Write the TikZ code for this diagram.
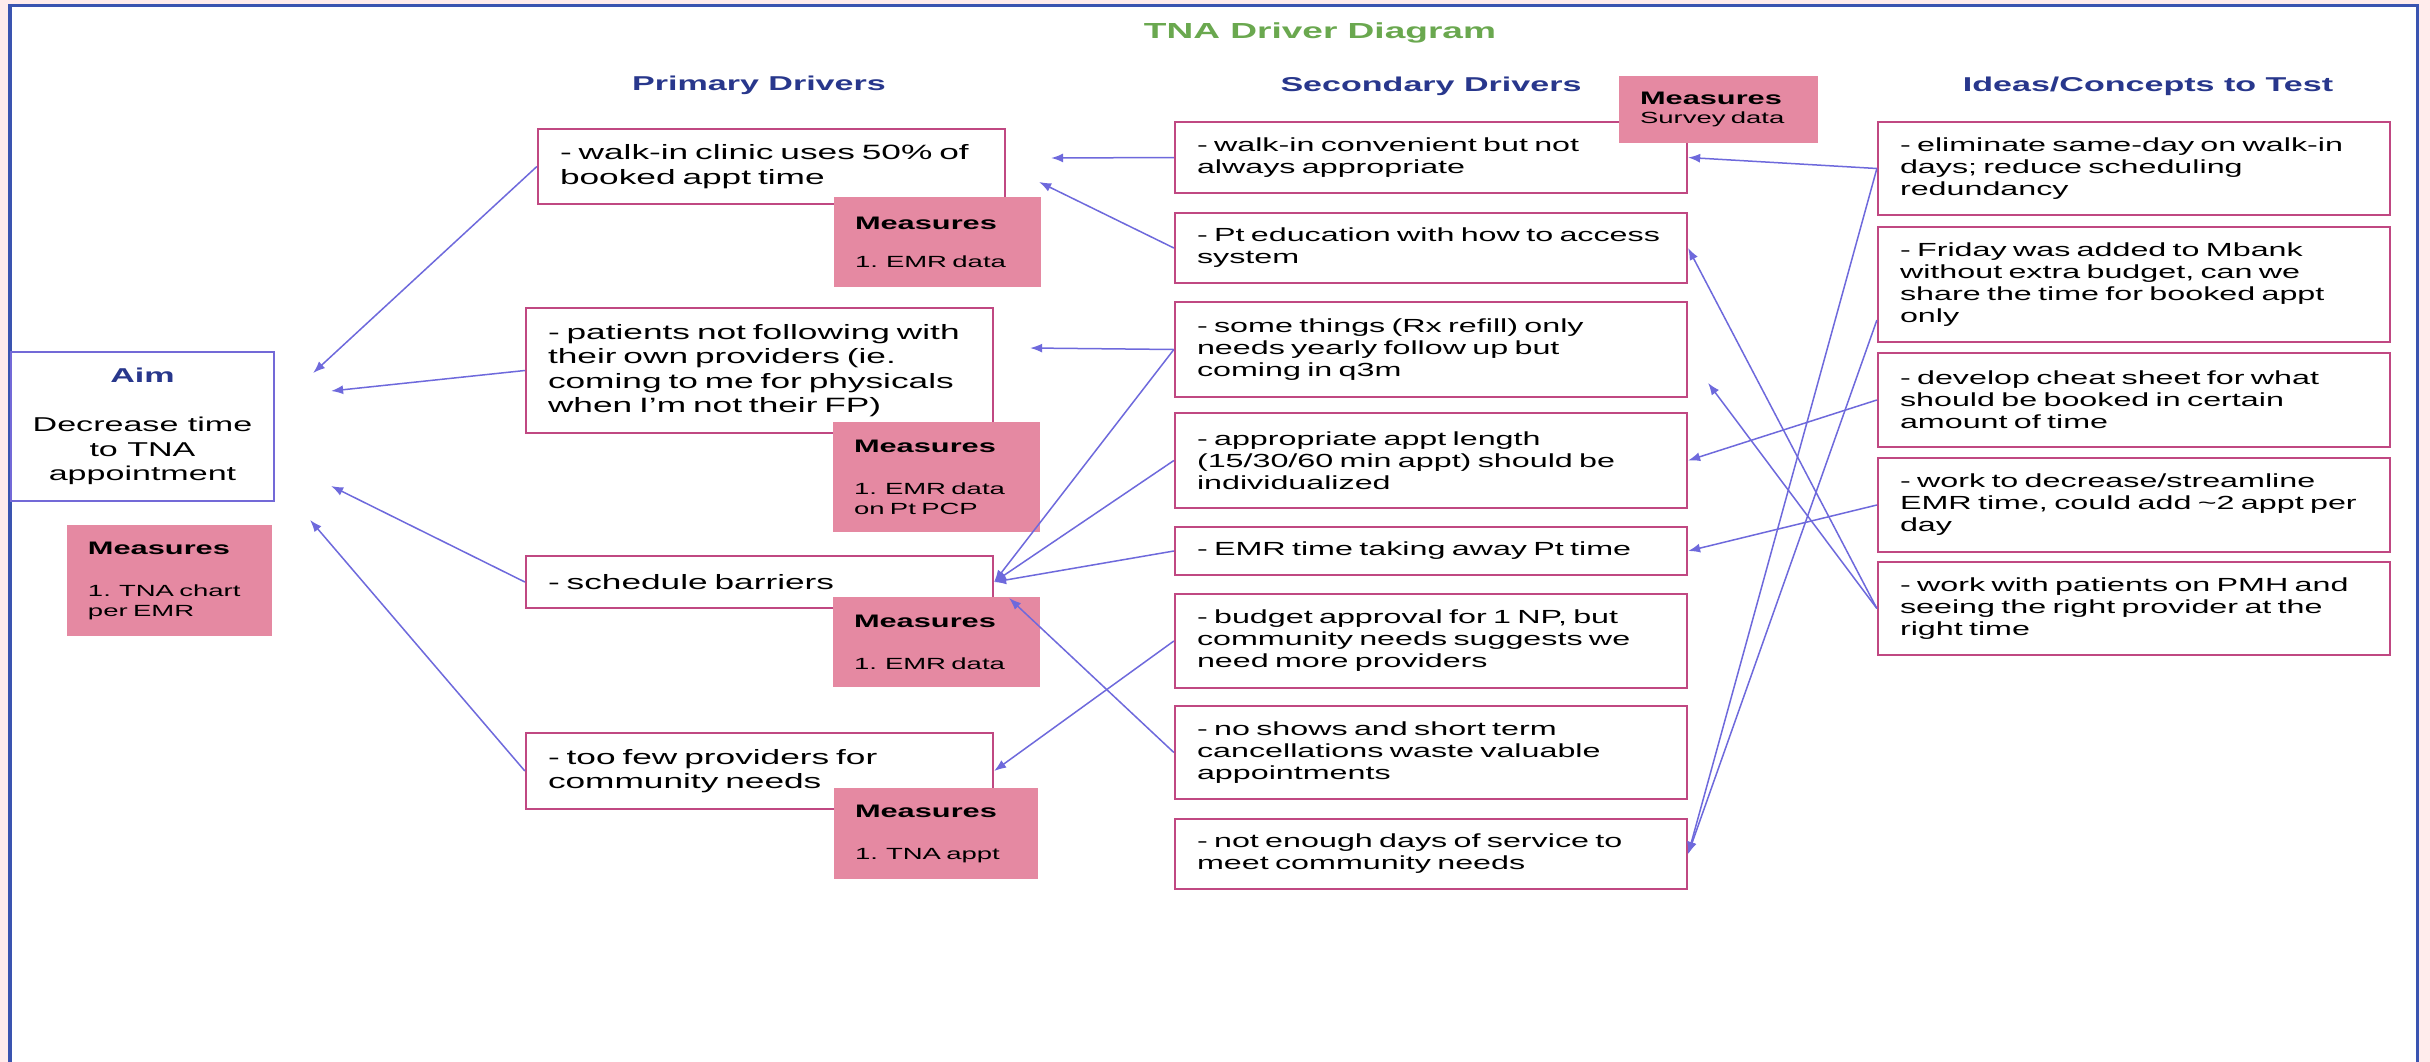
\documentclass[tikz,border=0pt]{standalone}
\usepackage{fontspec}
\setmainfont{Liberation Sans}[FakeStretch=1.7]
\usepackage{tikz}
\usetikzlibrary{calc,arrows.meta}
\definecolor{outerpink}{RGB}{255,236,236}
\definecolor{framec}{RGB}{58,84,176}
\definecolor{boxpink}{RGB}{192,72,130}
\definecolor{measpink}{RGB}{229,137,162}
\definecolor{arrowc}{RGB}{110,105,220}
\definecolor{aimc}{RGB}{115,105,215}
\definecolor{headc}{RGB}{40,55,140}
\definecolor{titlec}{RGB}{106,168,79}
\def\meashead{{\fontsize{10.3pt}{11.4pt}\selectfont\bfseries Measures}}
\tikzset{
	box/.style={draw=boxpink, line width=0.45mm, fill=white, inner xsep=4.4mm, inner ysep=0.5mm, align=left},
	sbox/.style={box, text width=93.6mm, font=\fontsize{10.8pt}{12.5pt}\selectfont},
	pbox/.style={box, text width=84.6mm, font=\fontsize{11.8pt}{13.9pt}\selectfont},
	measure/.style={fill=measpink, inner xsep=4.2mm, inner ysep=0.5mm, align=left, font=\fontsize{9.2pt}{11.4pt}\selectfont},
	arr/.style={draw=arrowc, line width=0.3mm, -{Latex[length=2.4mm,width=1.8mm]}},
	head/.style={text=headc, font=\bfseries\fontsize{11.4pt}{13pt}\selectfont},
}
\begin{document}
\begin{tikzpicture}[x=0.2mm, y=-0.2mm]
			%%%%% START %%%%%
			\useasboundingbox (0, 0) rectangle (2430, 1062);
			\fill[outerpink] (0, 0) rectangle (2430, 1062);
			\clip (0, 0) rectangle (2430, 1062);
			\draw[framec, line width=0.75mm, fill=white] (10, 5.5) rectangle (2417.5, 1080);
			
			\node[text=titlec, font=\bfseries\fontsize{12.4pt}{14pt}\selectfont] (title) at (1320, 33) {TNA Driver Diagram};
			\node[head] (hprim) at (759, 85) {Primary Drivers};
			\node[head] (hsec) at (1431, 86) {Secondary Drivers};
			\node[head] (hidea) at (2148, 86) {Ideas/Concepts to Test};
			
			\node[draw=aimc, line width=0.45mm, fill=white, minimum width=52.6mm, minimum height=29.8mm, align=center, font=\fontsize{11.4pt}{13.9pt}\selectfont] (aim) at (142.5, 426.5) {{\color{headc}\bfseries Aim}\\[4.9mm]Decrease time\\to TNA\\appointment};
			\node[measure, text width=32.6mm, minimum height=22.2mm] (m0) at (169.5, 580.5) {\meashead\\[4.4mm]1. TNA chart\\per EMR};
			
			\node[pbox, minimum height=15mm] (p1) at (771.5, 166.5) {- walk-in clinic uses 50\% of\\booked appt time};
			\node[pbox, minimum height=25mm] (p2) at (759.5, 370.5) {- patients not following with\\their own providers (ie.\\coming to me for physicals\\when I'm not their FP)};
			\node[pbox, minimum height=10.4mm] (p3) at (759.5, 582) {- schedule barriers};
			\node[pbox, minimum height=15.2mm] (p4) at (759.5, 771) {- too few providers for\\community needs};
			
			\node[measure, text width=33mm, minimum height=18mm] (m1) at (937.5, 242) {\meashead\\[3.6mm]1. EMR data};
			\node[measure, text width=33mm, minimum height=22mm] (m2) at (936.5, 477) {\meashead\\[4.4mm]1. EMR data\\on Pt PCP};
			\node[measure, text width=33mm, minimum height=18mm] (m3) at (936.5, 642) {\meashead\\[4.4mm]1. EMR data};
			\node[measure, text width=32.4mm, minimum height=18.2mm] (m4) at (936, 833.5) {\meashead\\[4.4mm]1. TNA appt};
			
			\node[sbox, minimum height=14.2mm] (s1) at (1431, 157.5) {- walk-in convenient but not\\always appropriate};
			\node[sbox, minimum height=14mm] (s2) at (1431, 248) {- Pt education with how to access\\system};
			\node[sbox, minimum height=19mm] (s3) at (1431, 349.5) {- some things (Rx refill) only\\needs yearly follow up but\\coming in q3m};
			\node[sbox, minimum height=19mm] (s4) at (1431, 460.5) {- appropriate appt length\\(15/30/60 min appt) should be\\individualized};
			\node[sbox, minimum height=9.6mm] (s5) at (1431, 551) {- EMR time taking away Pt time};
			\node[sbox, minimum height=18.8mm] (s6) at (1431, 641) {- budget approval for 1 NP, but\\community needs suggests we\\need more providers};
			\node[sbox, minimum height=18.6mm] (s7) at (1431, 752.5) {- no shows and short term\\cancellations waste valuable\\appointments};
			\node[sbox, minimum height=14mm] (s8) at (1431, 854) {- not enough days of service to\\meet community needs};
			
			\node[measure, text width=31.4mm, minimum height=13.4mm, font=\fontsize{9.2pt}{11pt}\selectfont] (ms) at (1718.5, 109.5) {\meashead\\Survey data};
			
			\node[sbox, minimum height=18.6mm] (i1) at (2134, 168.5) {- eliminate same-day on walk-in\\days; reduce scheduling\\redundancy};
			\node[sbox, minimum height=23mm] (i2) at (2134, 284.5) {- Friday was added to Mbank\\without extra budget, can we\\share the time for booked appt\\only};
			\node[sbox, minimum height=18.8mm] (i3) at (2134, 400) {- develop cheat sheet for what\\should be booked in certain\\amount of time};
			\node[sbox, minimum height=18.8mm] (i4) at (2134, 505) {- work to decrease/streamline\\EMR time, could add \textasciitilde2 appt per\\day};
			\node[sbox, minimum height=18.6mm] (i5) at (2134, 608.5) {- work with patients on PMH and\\seeing the right provider at the\\right time};
			
			\draw[arr] (p1.west) -- ($(aim.east)+(38, -53.5)$);
			\draw[arr] (p2.west) -- ($(aim.east)+(56, -35.5)$);
			\draw[arr] (p3.west) -- ($(aim.east)+(56, 59.5)$);
			\draw[arr] (p4.west) -- ($(aim.east)+(35, 93.5)$);
			
			\draw[arr] (s1.west) -- ($(p1.east)+(45, -8.5)$);
			\draw[arr] (s2.west) -- ($(p1.east)+(33, 15.5)$);
			\draw[arr] (s3.west) -- ($(p2.east)+(36, -22.5)$);
			\draw[arr] (s3.west) -- (p3.east);
			\draw[arr] (s4.west) -- (p3.east);
			\draw[arr] (s5.west) -- (p3.east);
			\draw[arr] (s6.west) -- (p4.east);
			\draw[arr] (s7.west) -- ($(p3.south east)+(15, -11)$);
			
			\draw[arr] (i1.west) -- (s1.east);
			\draw[arr] (i1.west) -- (s8.east);
			\draw[arr] ($(i2.south west)+(0, -23)$) -- (s8.east);
			\draw[arr] (i3.west) -- (s4.east);
			\draw[arr] (i4.west) -- (s5.east);
			\draw[arr] (i5.west) -- (s2.east);
			\draw[arr] (i5.west) -- ($(s3.east)+(20, 33.5)$);
			%%%%% END %%%%%
\end{tikzpicture}
\end{document}
